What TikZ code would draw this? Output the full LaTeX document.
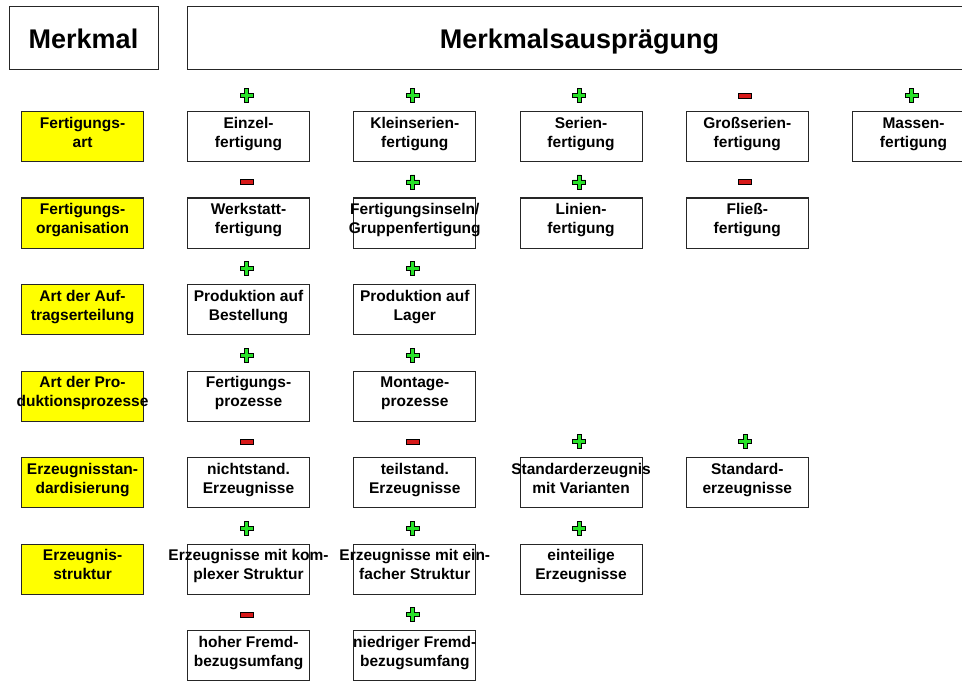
\documentclass[tikz,border=0pt]{standalone}
\usepackage{fontspec}
\setmainfont{Liberation Sans}
\definecolor{gruen}{RGB}{40,225,40}
\definecolor{rot}{RGB}{215,25,25}
\definecolor{gelb}{RGB}{255,255,0}

% grid of the value boxes: column pitch, row pitch, first corner
\newcommand\SpX[1]{(187+166.25*(#1-1))}
\newcommand\ZeY[1]{(111+86.5*(#1-1))}

% value box: name, column, row, first line, second line
\newcommand\Feld[5]{%
  \node[feld] (#1) at ({\SpX{#2}},{\ZeY{#3}}) {};
  \node[feldtext] (#1-t) at (#1.center) {\strut #4\\\strut #5};}
% characteristic box (yellow): name, row, first line, second line
\newcommand\Merk[4]{%
  \node[feld, fill=gelb] (#1) at (21,{\ZeY{#2}}) {};
  \node[feldtext] (#1-t) at (#1.center) {\strut #3\\\strut #4};}
% rating signs above a box: column, row
\newcommand\Plus[2]{\pic at ({\SpX{#1}+59.5},{\ZeY{#2}-15.5}) {plussign};}
\newcommand\Minus[2]{\pic at ({\SpX{#1}+59.5},{\ZeY{#2}-15.5}) {minussign};}

\begin{document}
\begin{tikzpicture}[x=1pt, y=-1pt,
  feld/.style={draw=black!85, line width=1.1pt, fill=white,
    minimum width=122pt, minimum height=50pt, inner sep=0pt, anchor=north west},
  feldtext/.style={font=\bfseries\fontsize{15.5}{18.7}\selectfont,
    align=center, inner sep=0pt, yshift=2.5pt},
  kopf/.style={draw=black!85, line width=1.1pt, fill=white, inner sep=0pt, anchor=north west},
  kopftext/.style={font=\bfseries\fontsize{27}{32}\selectfont, inner sep=0pt, anchor=base},
  plussign/.pic={
    \draw[fill=gruen, line width=0.8pt, line join=miter]
      (-2,-7) -- (2,-7) -- (2,-2) -- (6.5,-2) -- (6.5,2) -- (2,2) -- (2,7)
      -- (-2,7) -- (-2,2) -- (-6.5,2) -- (-6.5,-2) -- (-2,-2) -- cycle;},
  minussign/.pic={
    \draw[fill=rot, line width=0.8pt] (-6.5,-2.5) rectangle (6.5,2.5);}
]
\clip (0,0) rectangle (962,682);
\fill[white] (0,0) rectangle (962,682);

% header row
\node[kopf, minimum width=149pt, minimum height=63pt] (kopfM) at (9,6) {};
\node[kopftext] (kopfM-t) at (83.5,49) {Merkmal};
\node[kopf, minimum width=785pt, minimum height=63pt] (kopfA) at (187,6) {};
\node[kopftext] (kopfA-t) at (579.5,49) {Merkmalsausprägung};

% characteristics
\Merk{m1}{1}{Fertigungs-}{art}
\Merk{m2}{2}{Fertigungs-}{organisation}
\Merk{m3}{3}{Art der Auf-}{tragserteilung}
\Merk{m4}{4}{Art der Pro-}{duktionsprozesse}
\Merk{m5}{5}{Erzeugnisstan-}{dardisierung}
\Merk{m6}{6}{Erzeugnis-}{struktur}

% Fertigungsart
\Feld{a1}{1}{1}{Einzel-}{fertigung}
\Feld{a2}{2}{1}{Kleinserien-}{fertigung}
\Feld{a3}{3}{1}{Serien-}{fertigung}
\Feld{a4}{4}{1}{Großserien-}{fertigung}
\Feld{a5}{5}{1}{Massen-}{fertigung}
\Plus{1}{1} \Plus{2}{1} \Plus{3}{1} \Minus{4}{1} \Plus{5}{1}

% Fertigungsorganisation
\Feld{b1}{1}{2}{Werkstatt-}{fertigung}
\Feld{b2}{2}{2}{Fertigungsinseln/}{Gruppenfertigung}
\Feld{b3}{3}{2}{Linien-}{fertigung}
\Feld{b4}{4}{2}{Fließ-}{fertigung}
\Minus{1}{2} \Plus{2}{2} \Plus{3}{2} \Minus{4}{2}

% Auftragserteilung
\Feld{c1}{1}{3}{Produktion auf}{Bestellung}
\Feld{c2}{2}{3}{Produktion auf}{Lager}
\Plus{1}{3} \Plus{2}{3}

% Produktionsprozesse
\Feld{d1}{1}{4}{Fertigungs-}{prozesse}
\Feld{d2}{2}{4}{Montage-}{prozesse}
\Plus{1}{4} \Plus{2}{4}

% Standardisierung
\Feld{e1}{1}{5}{nichtstand.}{Erzeugnisse}
\Feld{e2}{2}{5}{teilstand.}{Erzeugnisse}
\Feld{e3}{3}{5}{Standarderzeugnis}{mit Varianten}
\Feld{e4}{4}{5}{Standard-}{erzeugnisse}
\Minus{1}{5} \Minus{2}{5} \Plus{3}{5} \Plus{4}{5}

% Erzeugnisstruktur
\Feld{f1}{1}{6}{Erzeugnisse mit kom-}{plexer Struktur}
\Feld{f2}{2}{6}{Erzeugnisse mit ein-}{facher Struktur}
\Feld{f3}{3}{6}{einteilige}{Erzeugnisse}
\Plus{1}{6} \Plus{2}{6} \Plus{3}{6}

% Fremdbezug
\Feld{g1}{1}{7}{hoher Fremd-}{bezugsumfang}
\Feld{g2}{2}{7}{niedriger Fremd-}{bezugsumfang}
\Minus{1}{7} \Plus{2}{7}
\end{tikzpicture}
\end{document}
